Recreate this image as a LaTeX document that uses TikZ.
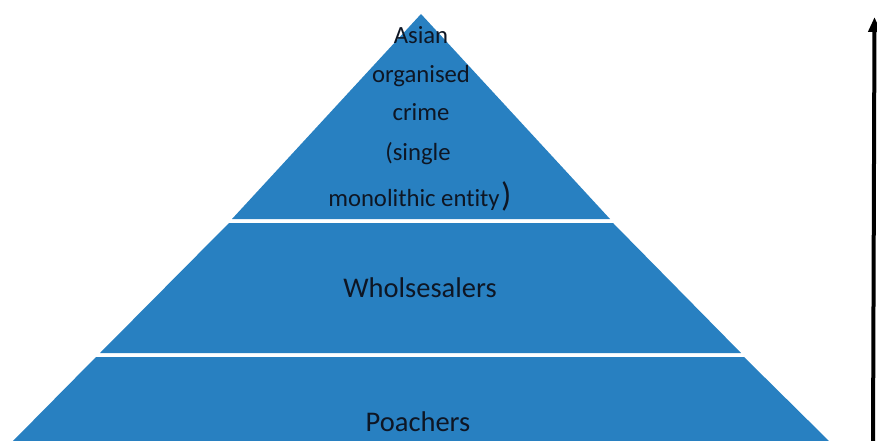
\documentclass[tikz,border=0pt]{standalone}
\usepackage{fontspec}
\setmainfont[Ligatures={NoCommon}]{Carlito}
\definecolor{pyrblue}{RGB}{40,128,193}
\definecolor{txtc}{RGB}{14,22,36}
\usetikzlibrary{arrows.meta}
\tikzset{
  band/.style={fill=pyrblue, draw=none},
  lbl/.style={anchor=base, text=txtc, inner sep=0pt, font=\fontsize{24.7}{24.7}\selectfont},
  biglbl/.style={anchor=base, text=txtc, inner sep=0pt, font=\fontsize{28.5}{28.5}\selectfont},
  uparrow/.style={line width=4pt, -{Triangle[length=15pt,width=12pt]}}
}
\begin{document}
\begin{tikzpicture}[x=1pt,y=-1pt]
\useasboundingbox (0,0) rectangle (877,441);
\clip (0,0) rectangle (877,441);
% bands
\path[band] (421,14) -- (610,219) -- (232,219) -- cycle;
\path[band] (229,223) -- (613,223) -- (741,353) -- (100,353) -- cycle;
\path[band] (96,357) -- (744,357) -- (830,442) -- (12,442) -- cycle;
% labels
\node[lbl] (t1) at (421,44) {Asian};
\node[lbl] (t2) at (421,83) {organised};
\node[lbl] (t3) at (421,121) {crime};
\node[lbl] (t4) at (418,160) {(single};
\node[lbl] (t5) at (414,206) {monolithic entity};
\node[anchor=base west, text=txtc, inner sep=0pt, font=\fontsize{34}{34}\selectfont] (t6) at ([xshift=1pt]t5.base east) {)};
\node[biglbl] (w) at (420,297) {Wholsesalers};
\node[biglbl] (p) at (418,431) {Poachers};
% arrow
\coordinate (abot) at (873,445);
\coordinate (atop) at (874.5,17);
\draw[uparrow] (abot) -- (atop);
\end{tikzpicture}
\end{document}
